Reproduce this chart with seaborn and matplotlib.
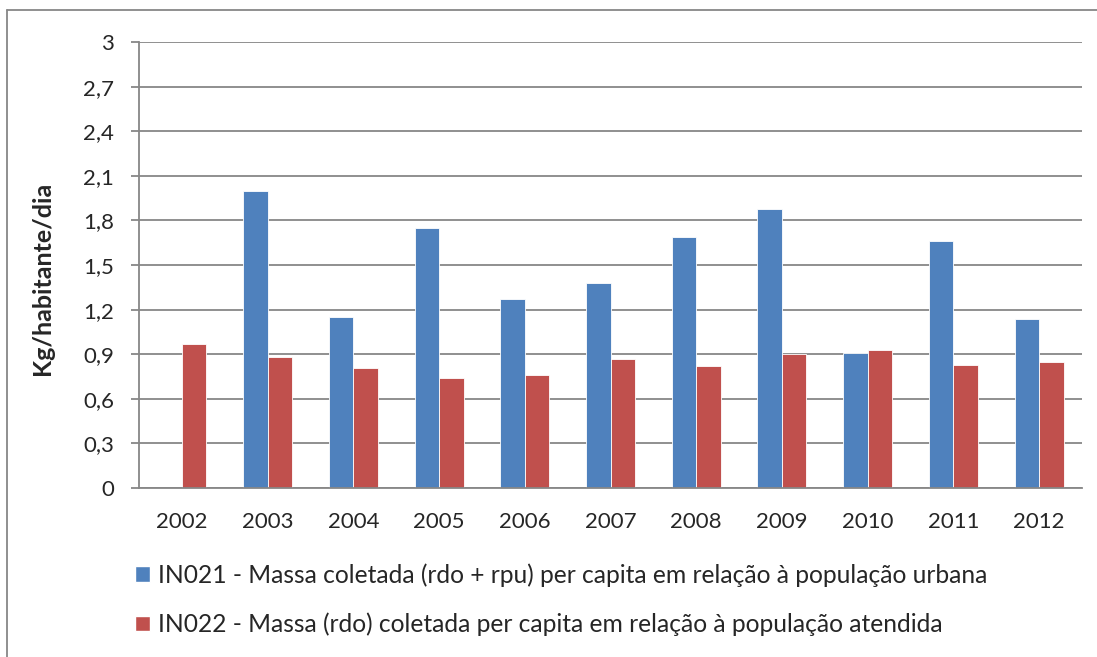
import pandas as pd
import numpy as np
import matplotlib
matplotlib.use("Agg")
import matplotlib.pyplot as plt
from matplotlib.lines import Line2D
from matplotlib.patches import Patch
import seaborn as sns

# data
anos = ['2002', '2003', '2004', '2005', '2006', '2007', '2008', '2009', '2010', '2011', '2012']
in021 = [np.nan, 2.00, 1.15, 1.75, 1.27, 1.38, 1.69, 1.88, 0.91, 1.66, 1.14]
in022 = [0.97, 0.88, 0.81, 0.74, 0.76, 0.87, 0.82, 0.90, 0.93, 0.83, 0.85]
yticks = [0, 0.3, 0.6, 0.9, 1.2, 1.5, 1.8, 2.1, 2.4, 2.7, 3]

lbl21 = 'IN021 - Massa coletada (rdo + rpu) per capita em relação à população urbana'
lbl22 = 'IN022 - Massa (rdo) coletada per capita em relação à população atendida'
cores = {lbl21: '#4F81BD', lbl22: '#C0504D'}

df = pd.DataFrame({
    'Ano': anos * 2,
    'Valor': in021 + in022,
    'Serie': [lbl21] * len(anos) + [lbl22] * len(anos),
})

sns.set_style("white")
plt.rcParams['font.family'] = ['Lato', 'DejaVu Sans']

fig = plt.figure(figsize=(10.97, 6.57), dpi=100)
ax = fig.add_axes([139 / 1097, 1 - 488 / 657, (1082 - 139) / 1097, 446 / 657])

grid_c = '#878787'
sns.barplot(data=df, x='Ano', y='Valor', hue='Serie', order=anos,
            hue_order=[lbl21, lbl22], palette=cores, saturation=1, width=0.5714,
            edgecolor='white', linewidth=0.6, ax=ax, legend=False, errorbar=None)

ax.set_xlim(-0.5, len(anos) - 0.5)
ax.set_ylim(0, 3)
ax.set_yticks(yticks)
ax.set_yticklabels([('%g' % v).replace('.', ',') for v in yticks])
ax.yaxis.grid(True, color=grid_c, linewidth=1.3)
ax.set_axisbelow(True)

# tick marks between the categories
ax.set_xticks(np.arange(-0.5, len(anos)), minor=True)
ax.tick_params(axis='x', which='major', length=0, pad=17, labelsize=16)
ax.tick_params(axis='x', which='minor', length=6, width=1.3, color=grid_c, direction='out')
ax.tick_params(axis='y', which='major', length=6, width=1.3, color=grid_c,
               direction='out', left=True, pad=12, labelsize=16)

for side in ['top', 'right']:
    ax.spines[side].set_visible(False)
for side in ['left', 'bottom']:
    ax.spines[side].set_color(grid_c)
    ax.spines[side].set_linewidth(1.3)

ax.set_xlabel('')
ax.set_ylabel('Kg/habitante/dia', fontsize=18, fontweight='bold')
ax.yaxis.set_label_coords((54 - 139) / 943, 0.47)

handles = [Patch(facecolor=cores[lbl21], label=lbl21),
           Patch(facecolor=cores[lbl22], label=lbl22)]
fig.legend(handles=handles, loc='upper left', bbox_to_anchor=(135 / 1097, 1 - 563 / 657),
           frameon=False, fontsize=17.7, handlelength=0.61, handleheight=0.61,
           handletextpad=0.33, labelspacing=1.06, borderpad=0, borderaxespad=0)

# outer chart-area border (top and left edges visible)
fig.add_artist(Line2D([7 / 1097, 1], [1 - 10 / 657, 1 - 10 / 657], color=grid_c, linewidth=1.3))
fig.add_artist(Line2D([7 / 1097, 7 / 1097], [0, 1 - 10 / 657], color=grid_c, linewidth=1.3))

fig.savefig('out.png', dpi=100)
